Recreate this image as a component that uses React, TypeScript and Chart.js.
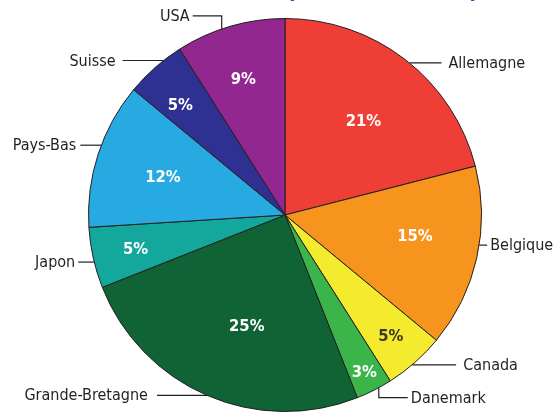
import React, { useEffect, useRef } from "react";
import { Chart, registerables } from "chart.js";

Chart.register(...registerables);

const categories = ["Allemagne", "Belgique", "Canada", "Danemark", "Grande-Bretagne", "Japon", "Pays-Bas", "Suisse", "USA"];
const shares = [21, 15, 5, 3, 25, 5, 12, 5, 9];
const sliceColors = ["#EF3E36", "#F7941D", "#F4EB2E", "#3BB54A", "#0F6334", "#14A79C", "#27AAE1", "#2E3192", "#92278F"];
const pctTextColors = ["#ffffff", "#ffffff", "#3b3720", "#ffffff", "#ffffff", "#ffffff", "#ffffff", "#ffffff", "#ffffff"];

// label placement (fractions within each slice / radius)
const pctT = [0.53, 0.44, 0.52, 0.53, 0.45, 0.48, 0.48, 0.37, 0.47];
const pctR = [0.62, 0.67, 0.82, 0.9, 0.6, 0.78, 0.65, 0.77, 0.72];
const leaderT = [0.52, 0.43, 0.56, 0.36, 0.5, 0.43, 0.565, 0.68, 0.42];
const leaderDir = [1, 1, 1, 1, -1, -1, -1, -1, -1];
const leaderDrop = [0, 0, 0, 10, 0, 0, 0, 0, -13];
const leaderLen = [32, 8, 44, 29, 50, 16, 21, 41, 29];
const leaderGap = [7, 3, 7, 3, 9, 3, 4, 7, 3];

const LABEL_FONT = "16px 'DejaVu Sans Condensed', 'DejaVu Sans', sans-serif";
const PCT_FONT = "bold 16.5px 'DejaVu Sans Condensed', 'DejaVu Sans', sans-serif";
const INK = "#231f20";

const labelPlugin = {
  id: "pieLabels",
  afterDatasetsDraw(chart: any) {
    const ctx = chart.ctx as CanvasRenderingContext2D;
    const meta = chart.getDatasetMeta(0);
    ctx.save();
    // partially visible title (cut off at the top)
    ctx.fillStyle = "#0b63b5";
    ctx.font = "bold 22px 'DejaVu Sans', sans-serif";
    ctx.textAlign = "center";
    ctx.textBaseline = "alphabetic";
    ctx.fillText("(", 291, -2);
    ctx.fillText(")", 474, -2);

    meta.data.forEach((arc: any, i: number) => {
      const { x, y, startAngle, endAngle, outerRadius } = arc.getProps(["x", "y", "startAngle", "endAngle", "outerRadius"], true);
      // percentage inside
      const a = startAngle + (endAngle - startAngle) * pctT[i];
      const rr = outerRadius * pctR[i];
      ctx.font = PCT_FONT;
      ctx.fillStyle = pctTextColors[i];
      ctx.textAlign = "center";
      ctx.textBaseline = "middle";
      ctx.fillText(shares[i] + "%", x + rr * Math.cos(a), y + rr * Math.sin(a));

      // leader line
      const la = startAngle + (endAngle - startAngle) * leaderT[i];
      const ax = x + outerRadius * Math.cos(la);
      const ay = y + outerRadius * Math.sin(la);
      const by = ay + leaderDrop[i];
      const ex = ax + leaderDir[i] * leaderLen[i];
      ctx.strokeStyle = INK;
      ctx.lineWidth = 1.2;
      ctx.beginPath();
      ctx.moveTo(ax, ay);
      if (leaderDrop[i] !== 0) ctx.lineTo(ax, by);
      ctx.lineTo(ex, by);
      ctx.stroke();

      ctx.font = LABEL_FONT;
      ctx.fillStyle = INK;
      ctx.textAlign = leaderDir[i] > 0 ? "left" : "right";
      ctx.textBaseline = "middle";
      ctx.fillText(categories[i], ex + leaderDir[i] * leaderGap[i], by + 1);
    });
    ctx.restore();
  },
};

export default function App() {
  const ref = useRef<HTMLCanvasElement | null>(null);
  useEffect(() => {
    if (!ref.current) return;
    const chart = new Chart(ref.current, {
      type: "pie",
      data: {
        labels: categories,
        datasets: [
          {
            data: shares,
            backgroundColor: sliceColors,
            borderColor: "#231f20",
            borderWidth: 1,
          },
        ],
      },
      options: {
        responsive: false,
        animation: false,
        layout: { padding: { left: 88, right: 75, top: 18, bottom: 0 } },
        plugins: {
          legend: { display: false },
          tooltip: { enabled: false },
          title: { display: false },
        },
      },
      plugins: [labelPlugin],
    } as any);
    return () => chart.destroy();
  }, []);
  return (
    <div style={{ position: "fixed", left: 0, top: 0, width: 557, height: 412, background: "#fff" }}>
      <canvas ref={ref} width={557} height={412} style={{ display: "block" }} />
    </div>
  );
}
